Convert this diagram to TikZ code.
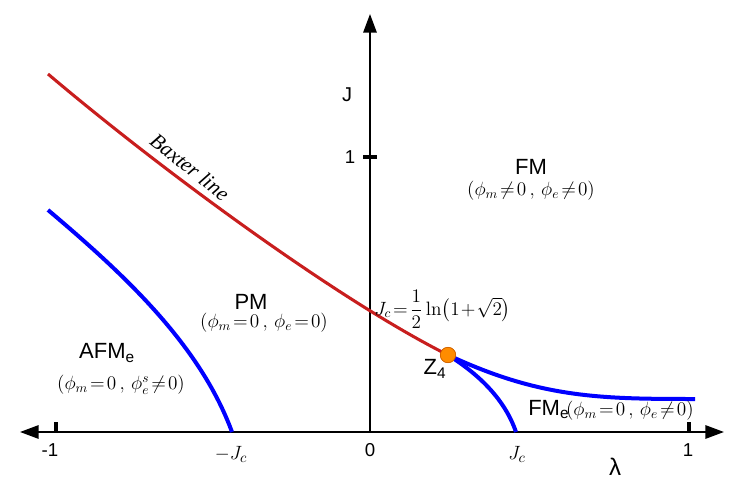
\documentclass[tikz,border=0pt]{standalone}
\usepackage{amsmath}
\usepackage{fontspec}
\setsansfont{Liberation Sans}
\newfontfamily\baxfont{Liberation Serif}
\usetikzlibrary{arrows.meta}
\begin{document}
\begin{tikzpicture}[x=0.75pt,y=-0.75pt,
  axis/.style={line width=1.5pt,-{Triangle[length=14pt,width=10pt]}},
  tick/.style={line width=2.4pt},
  redc/.style={line width=2.3pt,color={rgb,255:red,200;green,30;blue,30}},
  bluec/.style={line width=3pt,color=blue},
  lbl/.style={font=\sffamily\fontsize{16.5}{18}\selectfont,inner sep=0pt},
  num/.style={font=\sffamily\fontsize{14}{16}\selectfont,inner sep=0pt},
  mth/.style={font=\fontsize{14}{16}\selectfont,inner sep=0pt},
  dot/.style={circle,fill={rgb,255:red,255;green,140;blue,0},draw={rgb,255:red,210;green,100;blue,0},line width=0.5pt,minimum size=11.5pt,inner sep=0pt}]
\useasboundingbox (0,0) rectangle (747,486);
% axes
\coordinate (o) at (370,432);
\coordinate (xl) at (20,432);
\coordinate (xr) at (724,432);
\coordinate (yt) at (370,14);
\draw[axis] (o) -- (xr);
\draw[axis] (o) -- (xl);
\draw[axis] (o) -- (yt);
% ticks
\coordinate (tm1a) at (56,422); \coordinate (tm1b) at (56,432);
\coordinate (tp1a) at (689,422); \coordinate (tp1b) at (689,432);
\coordinate (tja) at (363,157); \coordinate (tjb) at (377,157);
\draw[tick] (tm1a) -- (tm1b);
\draw[tick] (tp1a) -- (tp1b);
\draw[tick] (tja) -- (tjb);
% axis labels
\node[num] (lm1) at (50,450) {-1};
\node[num] (l0) at (370,450) {0};
\node[num] (l1) at (688,450) {1};
\node[num] (lj1) at (350,157) {1};
\node[lbl,font=\sffamily\fontsize{15}{17}\selectfont] (lJ) at (347,95) {J};
\node[lbl,font=\sffamily\fontsize{18}{20}\selectfont] (llam) at (615,467) {λ};
\node[mth,font=\fontsize{15}{17}\selectfont] (lmjc) at (231,454) {$-J_c$};
\node[mth,font=\fontsize{15}{17}\selectfont] (ljc) at (517,454) {$J_c$};
% curves
\node[dot] (z4) at (448,355) {};
\coordinate (rs) at (48,74);
\coordinate (bls) at (48,210);
\coordinate (ble) at (232,432);
\coordinate (bre) at (516,432);
\coordinate (bue) at (695,399);
\draw[redc] (rs) .. controls (160,169) and (338,300) .. (z4.center);
\draw[bluec] (bls) .. controls (125,275) and (200,345) .. (ble);
\draw[bluec] (z4.center) .. controls (480,375) and (505,400) .. (bre);
\draw[bluec] (z4.center) .. controls (540,398) and (600,399) .. (bue);
\node[dot] at (z4) {};
% region labels
\node[inner sep=0pt,rotate=-38.5,font=\baxfont\itshape\fontsize{16}{18}\selectfont] (bax) at (190,167) {Baxter line};
\node[lbl] (fm) at (531,167) {FM};
\node[mth] (fmp) at (531,191) {$\left(\phi_m\!\neq\!0\,,\,\phi_e\!\neq\!0\right)$};
\node[lbl] (pm) at (251,302) {PM};
\node[mth] (pmp) at (264,323) {$\left(\phi_m\!=\!0\,,\,\phi_e\!=\!0\right)$};
\node[lbl] (afm) at (107,353) {AFM\textsubscript{e}};
\node[mth] (afmp) at (121,385) {$\left(\phi_m\!=\!0\,,\,\phi_e^s\!\neq\!0\right)$};
\node[mth,anchor=west,font=\fontsize{14.5}{16}\selectfont] (jc) at (374,309) {$J_c\!=\!\dfrac{1}{2}\ln\!\left(1\!+\!\sqrt{2}\right)$};
\node[lbl] (z4l) at (435,369) {Z\textsubscript{4}};
\node[mth,anchor=west] (fme) at (528,410) {{\sffamily\fontsize{16.5}{18}\selectfont FM\textsubscript{e}}$\!\left(\phi_m\!=\!0\,,\,\phi_e\!\neq\!0\right)$};
\end{tikzpicture}
\end{document}
